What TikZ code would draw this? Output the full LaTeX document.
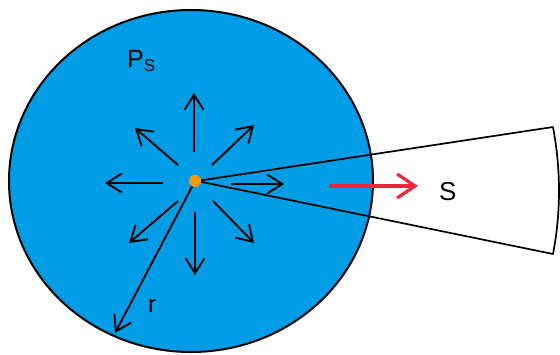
\documentclass[tikz,border=0pt]{standalone}
\usepackage{fontspec}
\setmainfont{Liberation Sans}
\usetikzlibrary{arrows.meta,shapes.geometric}
\definecolor{sphere}{HTML}{009CE6}
\definecolor{dotc}{HTML}{F59A00}
\definecolor{redarrow}{HTML}{EA2839}
\tikzset{
  ray/.style={draw=black, line width=1.9pt, -{Straight Barb[length=15pt,width=19pt,line width=1.9pt]}},
  flux/.style={draw=redarrow, line width=3.2pt, -{Straight Barb[length=18pt,width=24pt,line width=3.2pt]}},
  lbl/.style={inner sep=0pt, anchor=base west, font=\fontsize{25}{25}\selectfont},
  cone/.style={draw=black, line width=1.7pt, line join=round}
}
\begin{document}
\begin{tikzpicture}[x=1pt,y=-1pt]
\useasboundingbox (0,0) rectangle (560,354);
% sphere
\node (sph) [draw=black, line width=2pt, fill=sphere, ellipse, minimum width=364pt, minimum height=342pt, inner sep=0pt] at (191,181) {};
% cone
\coordinate (apex) at (197,181);
\coordinate (ct) at (553,127);
\coordinate (cb) at (553,254);
\draw[cone] (apex) -- (ct) .. controls (561,170) and (561,212) .. (cb) -- cycle;
% radiating arrows
\coordinate (u0) at (194,152); \coordinate (u1) at (194,93);
\coordinate (ul0) at (178,165); \coordinate (ul1) at (135,128);
\coordinate (ur0) at (212,165); \coordinate (ur1) at (254,125);
\coordinate (l0) at (163,183); \coordinate (l1) at (105,183);
\coordinate (r0) at (231,184); \coordinate (r1) at (284,184);
\coordinate (dl0) at (178,201); \coordinate (dl1) at (129,243);
\coordinate (d0) at (195,212); \coordinate (d1) at (195,275);
\coordinate (dr0) at (213,201); \coordinate (dr1) at (254,243);
\coordinate (rad) at (115,333);
\draw[ray] (u0) -- (u1);
\draw[ray] (ul0) -- (ul1);
\draw[ray] (ur0) -- (ur1);
\draw[ray] (l0) -- (l1);
\draw[ray] (r0) -- (r1);
\draw[ray] (dl0) -- (dl1);
\draw[ray] (d0) -- (d1);
\draw[ray] (dr0) -- (dr1);
% source dot
\node (src) [circle, fill=dotc, minimum size=12pt, inner sep=0pt] at (195,181) {};
\draw[ray] (src.center) -- (rad);
\node (src2) [circle, fill=dotc, minimum size=12pt, inner sep=0pt] at (195,181) {};
% red flux arrow
\coordinate (f0) at (329,186); \coordinate (f1) at (418,186);
\draw[flux] (f0) -- (f1);
% labels
\node (ps) [lbl] at (127,67) {P\raisebox{-4pt}{\fontsize{17}{17}\selectfont S}};
\node (s) [lbl, font=\fontsize{26}{26}\selectfont] at (439,200) {S};
\node (r) [lbl, font=\fontsize{24}{24}\selectfont] at (148,312) {r};
\end{tikzpicture}
\end{document}
